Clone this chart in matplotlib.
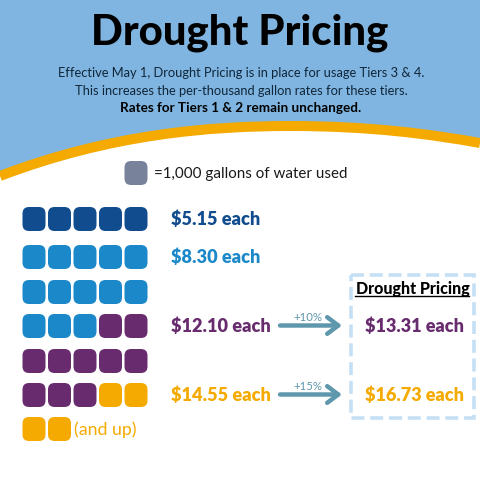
import matplotlib
matplotlib.use("Agg")
import matplotlib.pyplot as plt
from matplotlib.patches import FancyBboxPatch, PathPatch, Rectangle
from matplotlib.path import Path

BLUE_BG = "#7fb5e0"
ORANGE = "#f4aa00"
NAVY = "#114c8e"
BLUE = "#1b88c9"
PURPLE = "#682c6e"
GREY = "#78839b"
TEAL = "#5f97ad"
DASH = "#c5e0f5"
INK = "#10263a"

# Gallons-per-row unit chart: tier index of each unit
rows = [
    [0, 0, 0, 0, 0],
    [1, 1, 1, 1, 1],
    [1, 1, 1, 1, 1],
    [1, 1, 1, 2, 2],
    [2, 2, 2, 2, 2],
    [2, 2, 2, 3, 3],
    [3, 3],
]
row_y = [219, 257, 292, 326, 361, 395, 429]
tier_colors = [NAVY, BLUE, PURPLE, ORANGE]
rates = ["$5.15 each", "$8.30 each", "$12.10 each", "$14.55 each"]
rate_rows = [0, 1, 3, 5]
drought_rates = ["$13.31 each", "$16.73 each"]
drought_tiers = [2, 3]
increases = ["+10%", "+15%"]
intro = ["Effective May 1, Drought Pricing is in place for usage Tiers 3 & 4.",
         "This increases the per-thousand gallon rates for these tiers."]
FONT = "Lato"

fig = plt.figure(figsize=(4.8, 4.8), dpi=100)
ax = fig.add_axes([0, 0, 1, 1])
ax.set_xlim(0, 480)
ax.set_ylim(480, 0)
ax.axis("off")


def curve(offset):
    return Path([(0, 176 + offset), (110, 134 + offset), (210, 126 + offset),
                 (290, 126 + offset), (370, 126 + offset), (430, 134 + offset),
                 (480, 143 + offset)],
                [Path.MOVETO] + [Path.CURVE4] * 6)


# Header band with its orange edge
head = curve(0)
verts = [(0, 0)] + list(head.vertices) + [(480, 0), (0, 0)]
codes = [Path.MOVETO, Path.LINETO] + [Path.CURVE4] * 6 + [Path.LINETO, Path.CLOSEPOLY]
ax.add_patch(PathPatch(Path(verts, codes), fc=BLUE_BG, ec="none", zorder=1))
ax.add_patch(PathPatch(head, fc="none", ec=ORANGE, lw=7.2, capstyle="butt", zorder=2))

ax.text(240, 33, "Drought Pricing", ha="center", va="center", fontsize=30.2,
        fontweight="black", family=FONT, color="black", zorder=3)
for y, line in zip([73, 91], intro):
    ax.text(241, y, line, ha="center", va="center", fontsize=9.25, family=FONT,
            color=INK, zorder=3)
ax.text(241, 108.5, "Rates for Tiers 1 & 2 remain unchanged.", ha="center", va="center",
        fontsize=9.75, fontweight="bold", family=FONT, color="black", zorder=3)


def unit(cx, cy, color, w=23, h=24):
    r = 6.5
    ax.add_patch(FancyBboxPatch((cx - w / 2 + r, cy - h / 2 + r), w - 2 * r, h - 2 * r,
                                boxstyle=f"round,pad={r},rounding_size={r}",
                                fc=color, ec="none", zorder=3))


# Legend
unit(136, 173, GREY)
ax.text(154, 174, "=1,000 gallons of water used", ha="left", va="center", fontsize=10.9,
        family=FONT, color="#1a1a1a")

# Units
for y, row in zip(row_y, rows):
    for i, tier in enumerate(row):
        unit(34 + i * 25.5, y, tier_colors[tier])

# Rates
for tier, (label, r) in enumerate(zip(rates, rate_rows)):
    ax.text(171, row_y[r] + 0.5, label, ha="left", va="center", fontsize=13.1,
            fontweight="heavy", family=FONT, color=tier_colors[tier])
ax.text(74, row_y[6] + 0.5, "(and up)", ha="left", va="center", fontsize=12.8, family=FONT,
        color=ORANGE)

# Drought box
ax.add_patch(Rectangle((351, 275), 123, 143, fc="none", ec=DASH, lw=2.6,
                       ls=(0, (3.6, 1.6)), zorder=2))
ax.text(412.5, 289, "Drought Pricing", ha="center", va="center", fontsize=11.5,
        fontweight="black", family=FONT, color="black")
ax.plot([355, 469], [296, 296], color="black", lw=1.0)

for label, inc, tier, r in zip(drought_rates, increases, drought_tiers, [3, 5]):
    y = row_y[r]
    ax.text(365, y + 0.5, label, ha="left", va="center", fontsize=13.0, fontweight="heavy",
            family=FONT, color=tier_colors[tier])
    ax.annotate("", xy=(342, y - 0.5), xytext=(280, y - 0.5),
                arrowprops=dict(arrowstyle="->,head_length=0.8,head_width=0.6",
                                color=TEAL, lw=3.2, shrinkA=0, shrinkB=0))
    ax.text(308, y - 8.5, inc, ha="center", va="center", fontsize=8.2, family=FONT,
            color=TEAL)

fig.savefig("out.png", dpi=100)
